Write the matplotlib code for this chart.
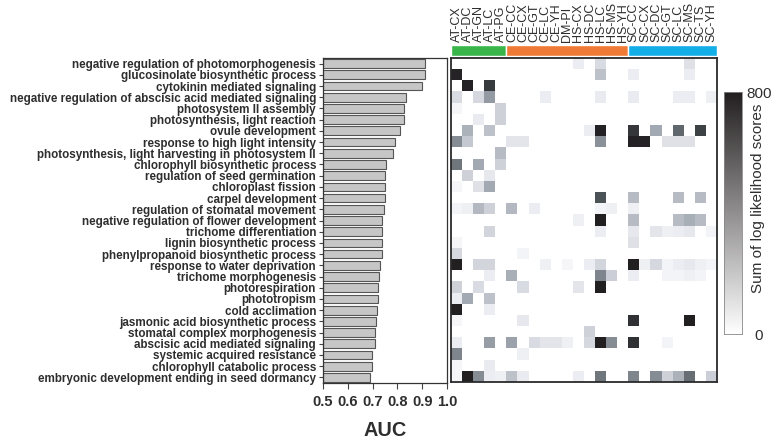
import numpy as np
import matplotlib
matplotlib.use("Agg")
import matplotlib.pyplot as plt
from matplotlib.colors import LinearSegmentedColormap

plt.rcParams['font.family'] = ['Liberation Sans', 'DejaVu Sans']

terms = ['negative regulation of photomorphogenesis', 'glucosinolate biosynthetic process',
         'cytokinin mediated signaling', 'negative regulation of abscisic acid mediated signaling',
         'photosystem II assembly', 'photosynthesis, light reaction', 'ovule development',
         'response to high light intensity', 'photosynthesis, light harvesting in photosystem II',
         'chlorophyll biosynthetic process', 'regulation of seed germination', 'chloroplast fission',
         'carpel development', 'regulation of stomatal movement',
         'negative regulation of flower development', 'trichome differentiation',
         'lignin biosynthetic process', 'phenylpropanoid biosynthetic process',
         'response to water deprivation', 'trichome morphogenesis', 'photorespiration',
         'phototropism', 'cold acclimation', 'jasmonic acid biosynthetic process',
         'stomatal complex morphogenesis', 'abscisic acid mediated signaling',
         'systemic acquired resistance', 'chlorophyll catabolic process',
         'embryonic development ending in seed dormancy']

auc = [0.912, 0.912, 0.899, 0.836, 0.826, 0.826, 0.812, 0.789, 0.784, 0.754,
       0.748, 0.748, 0.748, 0.745, 0.739, 0.739, 0.737, 0.737, 0.731, 0.727,
       0.723, 0.721, 0.718, 0.714, 0.710, 0.710, 0.697, 0.697, 0.691]

samples = ['AT-CX', 'AT-DC', 'AT-GN', 'AT-LC', 'AT-PG',
           'CE-CC', 'CE-CX', 'CE-GT', 'CE-LC', 'CE-YH', 'DM-PI',
           'HS-CX', 'HS-DC', 'HS-LC', 'HS-MS', 'HS-YH',
           'SC-CC', 'SC-CX', 'SC-DC', 'SC-GT', 'SC-LC', 'SC-MS', 'SC-TS', 'SC-YH']

group_sizes = [5, 11, 8]
group_colors = ['#3ab54a', '#ef7a35', '#12aee8']

# sum of log likelihood scores, non-zero cells only: term -> {sample: value}
scores = {
    0: {'HS-CX': 60, 'HS-LC': 120, 'SC-MS': 100},
    1: {'AT-CX': 780, 'HS-LC': 200, 'SC-CC': 60, 'SC-MS': 60},
    2: {'AT-DC': 790, 'AT-LC': 680},
    3: {'AT-CX': 120, 'AT-GN': 130, 'AT-LC': 330, 'CE-LC': 60, 'HS-LC': 70, 'SC-CC': 70,
        'SC-LC': 60, 'SC-MS': 60, 'SC-YH': 50},
    4: {'AT-CX': 30, 'AT-PG': 150},
    5: {'AT-GN': 70, 'AT-PG': 150},
    6: {'AT-DC': 250, 'AT-LC': 200, 'HS-DC': 60, 'HS-LC': 790, 'SC-CC': 700, 'SC-DC': 280,
        'SC-LC': 500, 'SC-TS': 650},
    7: {'AT-CX': 380, 'AT-DC': 180, 'CE-CC': 90, 'CE-CX': 90, 'HS-LC': 360, 'SC-CC': 790,
        'SC-CX': 780, 'SC-GT': 100, 'SC-LC': 100, 'SC-MS': 100},
    8: {'AT-PG': 220},
    9: {'AT-CX': 450, 'AT-GN': 280, 'AT-PG': 150},
    10: {'AT-DC': 150, 'AT-LC': 80},
    11: {'AT-CX': 30, 'AT-GN': 100, 'AT-LC': 280},
    12: {'HS-LC': 580, 'SC-CC': 220, 'SC-LC': 220, 'SC-TS': 220},
    13: {'AT-CX': 40, 'AT-DC': 50, 'AT-GN': 230, 'AT-LC': 150, 'CE-CC': 230, 'CE-GT': 60,
         'HS-LC': 40, 'HS-MS': 50, 'SC-CC': 50},
    14: {'HS-CX': 50, 'HS-LC': 800, 'SC-CC': 220, 'SC-LC': 220, 'SC-MS': 260, 'SC-TS': 220},
    15: {'AT-LC': 140, 'HS-LC': 60, 'SC-CC': 80, 'SC-DC': 90, 'SC-GT': 50, 'SC-LC': 60,
         'SC-MS': 80, 'SC-YH': 40},
    16: {'AT-CX': 30, 'SC-CC': 100},
    17: {'AT-CX': 130, 'CE-CX': 40},
    18: {'AT-CX': 800, 'AT-GN': 140, 'AT-LC': 140, 'CE-LC': 50, 'DM-PI': 30, 'HS-DC': 60,
         'HS-LC': 140, 'SC-CC': 800, 'SC-CX': 50, 'SC-DC': 130, 'SC-GT': 40, 'SC-LC': 60,
         'SC-MS': 80, 'SC-TS': 50, 'SC-YH': 40},
    19: {'AT-LC': 60, 'CE-CC': 260, 'HS-LC': 400, 'HS-MS': 160, 'SC-CC': 60, 'SC-GT': 40,
         'SC-LC': 40, 'SC-MS': 50, 'SC-TS': 40},
    20: {'AT-CX': 150, 'AT-GN': 120, 'CE-CX': 120, 'HS-CX': 90, 'HS-LC': 800},
    21: {'AT-CX': 60, 'AT-DC': 280, 'AT-LC': 200},
    22: {'AT-CX': 800, 'AT-LC': 60},
    23: {'AT-CX': 30, 'CE-CX': 80, 'SC-CC': 720, 'SC-MS': 800},
    24: {'HS-DC': 150},
    25: {'AT-CX': 60, 'AT-LC': 320, 'CE-CC': 300, 'CE-GT': 120, 'CE-LC': 90, 'CE-YH': 90,
         'DM-PI': 50, 'HS-DC': 130, 'HS-LC': 800, 'HS-MS': 380, 'SC-CC': 720, 'SC-GT': 40},
    26: {'AT-CX': 400, 'CE-CX': 50},
    27: {'AT-CX': 30, 'AT-LC': 70},
    28: {'AT-CX': 30, 'AT-DC': 800, 'AT-GN': 380, 'AT-LC': 60, 'AT-PG': 50, 'CE-CC': 200,
         'CE-CX': 70, 'HS-CX': 60, 'HS-LC': 450, 'SC-CC': 400, 'SC-DC': 380, 'SC-GT': 150,
         'SC-LC': 250, 'SC-MS': 480, 'SC-YH': 160},
}

mat = np.zeros((len(terms), len(samples)))
for r, cells in scores.items():
    for s, v in cells.items():
        mat[r, samples.index(s)] = v

W, H = 775, 443
fig = plt.figure(figsize=(W / 100, H / 100), dpi=100)
txt = '#2e2e2e'


def box(x0, y0, x1, y1):
    return [x0 / W, 1 - y1 / H, (x1 - x0) / W, (y1 - y0) / H]


cmap = LinearSegmentedColormap.from_list(
    'llr', [(0, '#ffffff'), (0.1, '#e6e8ee'), (0.35, '#a3a9b2'), (0.7, '#4f585d'), (1, '#221f21')])

# AUC bars
ax = fig.add_axes(box(323, 58, 447, 383))
y = np.arange(len(terms))
ax.barh(y, [a - 0.5 for a in auc], left=0.5, height=0.78, color='#c6c6c6',
        edgecolor='#555555', linewidth=0.8)
ax.set_xlim(0.5, 1.0)
ax.set_ylim(len(terms) - 0.5, -0.5)
ax.set_yticks(y)
ax.set_yticklabels(terms, fontsize=8.4, fontweight='bold', color=txt)
ax.set_xticks([0.5, 0.6, 0.7, 0.8, 0.9, 1.0])
ax.set_xticklabels(['0.5', '0.6', '0.7', '0.8', '0.9', '1.0'], fontsize=10.5,
                   fontweight='bold', color=txt)
ax.tick_params(axis='y', length=3, pad=2, width=0.8, color='#444444')
ax.tick_params(axis='x', length=4, pad=5, width=0.8, color='#444444')
for sp in ax.spines.values():
    sp.set_linewidth(0.9)
    sp.set_color('#333333')
fig.text(385 / W, 1 - 431 / H, 'AUC', fontsize=14.3, fontweight='bold', color=txt,
         ha='center', va='center')

# heatmap
hm = fig.add_axes(box(451, 58, 717, 382))
hm.imshow(mat, cmap=cmap, vmin=0, vmax=800, aspect='auto', interpolation='nearest')
hm.set_xticks([])
hm.set_yticks([])
for sp in hm.spines.values():
    sp.set_linewidth(1.3)
    sp.set_color('#2a2a2a')

# species colour strip with sample labels
st = fig.add_axes(box(451, 45, 717, 56))
start = 0
for n, c in zip(group_sizes, group_colors):
    st.bar(start, 1, width=n, align='edge', color=c, edgecolor='white', linewidth=1.0)
    start += n
st.set_xlim(0, len(samples))
st.set_ylim(0, 1)
st.set_yticks([])
st.xaxis.tick_top()
st.set_xticks(np.arange(len(samples)) + 0.5)
st.set_xticklabels(samples, rotation=90, fontsize=9, color=txt)
st.tick_params(axis='x', length=0, pad=2)
for sp in st.spines.values():
    sp.set_visible(False)

# colourbar
cax = fig.add_axes(box(724, 92, 742, 334))
grad = np.linspace(0, 800, 256).reshape(-1, 1)
cax.imshow(grad, cmap=LinearSegmentedColormap.from_list('g', ['#ffffff', '#231f20']),
           aspect='auto', origin='lower', extent=[0, 1, 0, 800])
cax.set_xticks([])
cax.set_yticks([])
for sp in cax.spines.values():
    sp.set_linewidth(0.6)
    sp.set_color('#888888')
fig.text(746 / W, 1 - 94 / H, '800', fontsize=11, ha='left', va='center', color=txt)
fig.text(754 / W, 1 - 336 / H, '0', fontsize=11, ha='left', va='center', color=txt)
fig.text(758 / W, 1 - 198 / H, 'Sum of log likelihood scores', fontsize=11, color=txt,
         rotation=90, ha='center', va='center')

fig.savefig('out.png', dpi=100)
